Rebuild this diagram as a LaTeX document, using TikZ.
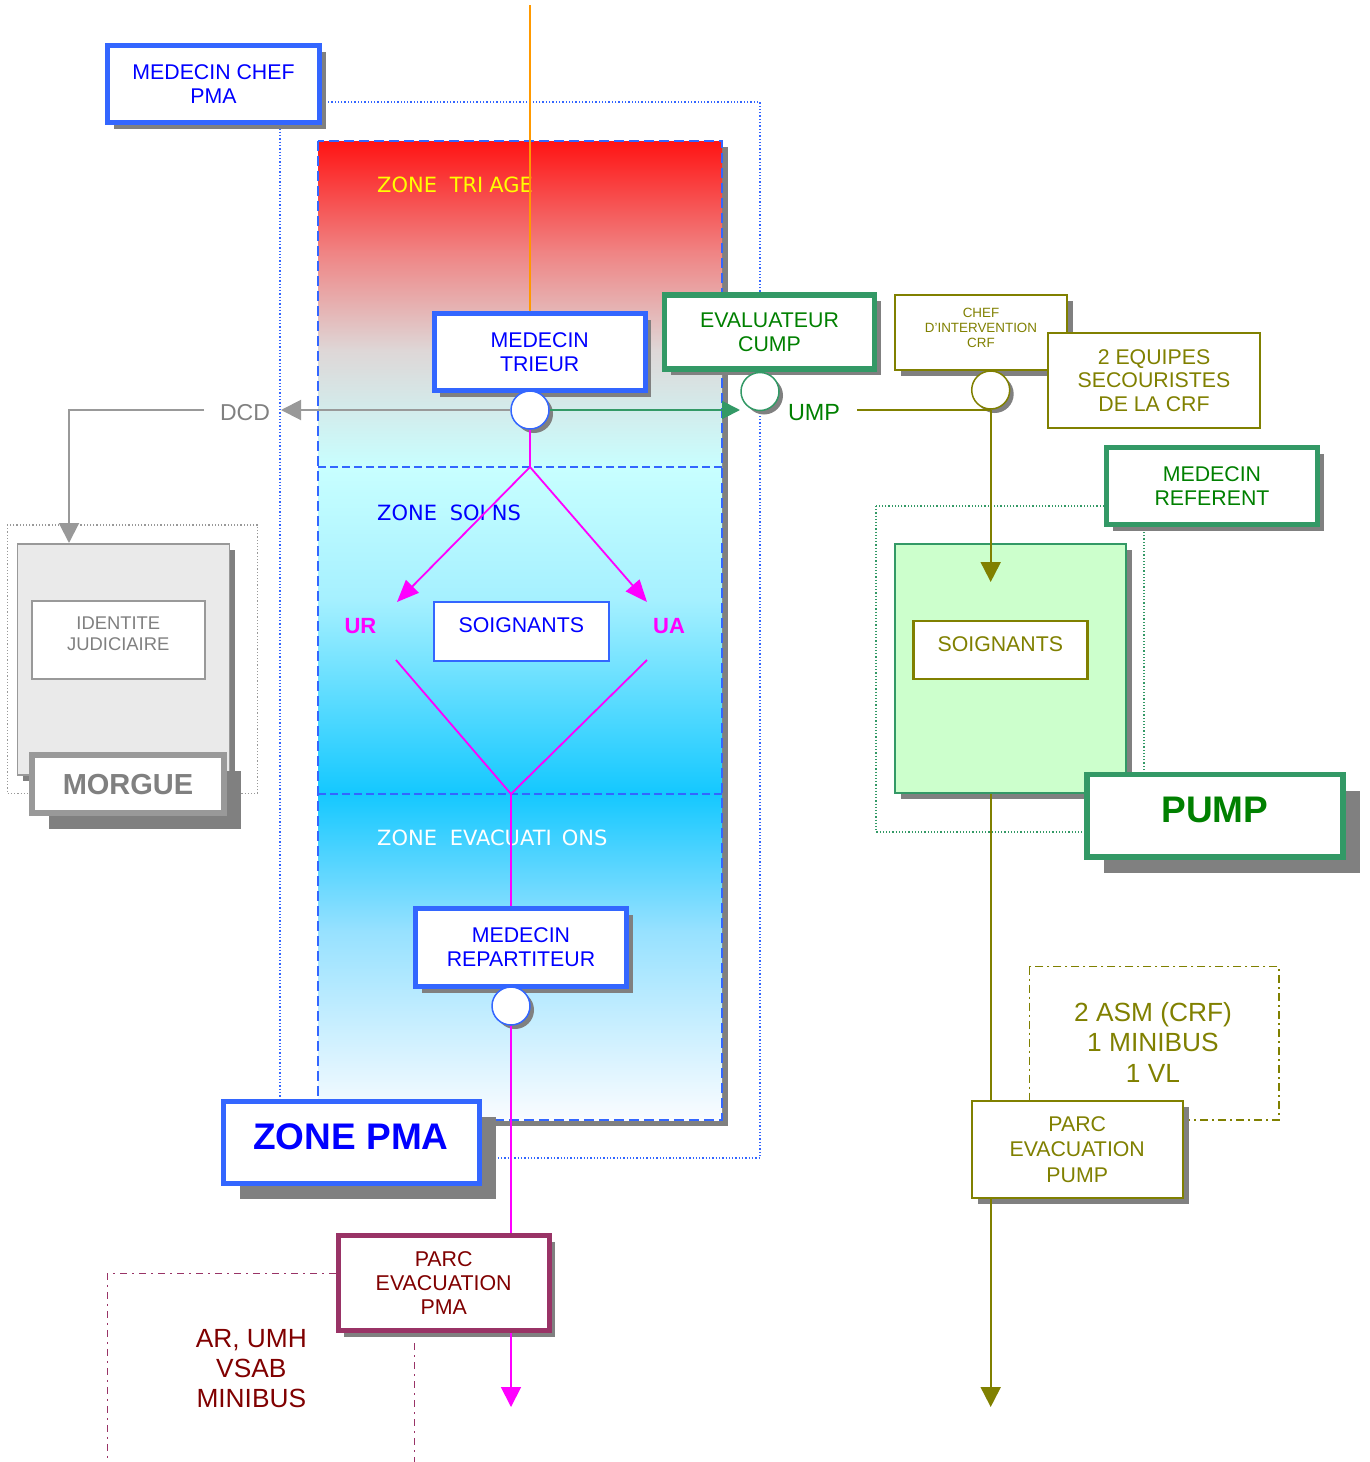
\documentclass[tikz,border=0pt]{standalone}
\usepackage{fontspec}
\setmainfont{Liberation Sans}
\newfontfamily\zonefont{DejaVu Sans}
\usetikzlibrary{shadows,arrows.meta}
\definecolor{bblue}{RGB}{51,102,255}
\definecolor{tblue}{RGB}{0,0,255}
\definecolor{gbord}{RGB}{51,153,102}
\definecolor{gtext}{RGB}{0,128,0}
\definecolor{olv}{RGB}{128,128,0}
\definecolor{mag}{RGB}{255,0,255}
\definecolor{pbord}{RGB}{153,51,102}
\definecolor{dred}{RGB}{128,0,0}
\definecolor{mgray}{RGB}{153,153,153}
\definecolor{tgray}{RGB}{128,128,128}
\definecolor{shgray}{RGB}{128,128,128}
\definecolor{mfill}{RGB}{234,234,234}
\definecolor{pfill}{RGB}{204,255,204}
\definecolor{orng}{RGB}{255,153,0}
\definecolor{ylw}{RGB}{255,255,0}
\definecolor{ta}{RGB}{255,20,20}
\definecolor{tb}{RGB}{240,130,130}
\definecolor{tc}{RGB}{222,215,215}
\definecolor{td}{RGB}{200,255,255}
\definecolor{sb}{RGB}{165,240,255}
\definecolor{sc}{RGB}{20,200,255}
\definecolor{eb}{RGB}{150,225,255}
\definecolor{ec}{RGB}{250,252,255}
\newcommand\myfs[2]{\fontsize{#1}{#2}\selectfont}
\newcommand\zgap{\kern6pt\ }
\begin{document}
\begin{tikzpicture}[x=1pt,y=-1pt,
  shad/.style={drop shadow={opacity=1,fill=shgray,shadow xshift=6pt,shadow yshift=-6pt}},
  bigshad/.style={drop shadow={opacity=1,fill=shgray,shadow xshift=17pt,shadow yshift=-16pt}},
  cshad/.style={drop shadow={opacity=1,fill=shgray,shadow xshift=4pt,shadow yshift=-4pt}},
  basebox/.style={fill=white,align=center,inner sep=0pt,font=\myfs{21.3}{24}},
  bluebox/.style={basebox,draw=bblue,line width=5pt,text=tblue},
  greenbox/.style={basebox,draw=gbord,line width=5.5pt,text=gtext},
  olivebox/.style={basebox,draw=olv,line width=2pt,text=olv},
  circ/.style={circle,fill=white,line width=1.5pt,minimum size=38pt,inner sep=0pt,cshad},
  arr/.style={-{Triangle[length=20pt,width=20pt]}},
  marr/.style={-{Triangle[length=22pt,width=18pt]}},
  zonetitle/.style={anchor=west,inner sep=0pt,font=\zonefont\myfs{21}{24}},
  thinl/.style={line width=1.8pt}
]
\useasboundingbox (0,0) rectangle (1369,1462);

% ---- PMA container (dotted) ----
\draw[bblue,line width=1.3pt,dash pattern=on 1.3pt off 2pt] (280,102) rectangle (760,1158);

% ---- zone column ----
\fill[shgray] (324,147) rectangle (728,1126);
\shade[top color=ta,bottom color=tb] (318,141) rectangle (722,250.5);
\shade[top color=tb,bottom color=tc] (318,250) rectangle (722,350.5);
\shade[top color=tc,bottom color=td] (318,350) rectangle (722,467.5);
\shade[top color=td,bottom color=sb] (318,467) rectangle (722,600.5);
\shade[top color=sb,bottom color=sc] (318,600) rectangle (722,793.5);
\shade[top color=sc,bottom color=eb] (318,793) rectangle (722,930.5);
\shade[top color=eb,bottom color=ec] (318,930) rectangle (722,1120);
\draw[bblue,line width=1.3pt,dash pattern=on 8pt off 4pt] (318,467) -- (722,467);
\draw[bblue,line width=1.3pt,dash pattern=on 8pt off 4pt] (318,794) -- (722,794);
\draw[bblue,line width=2.5pt,dash pattern=on 10pt off 5pt] (318,141) rectangle (722,1120);

\node[zonetitle,text=ylw] (ztri) at (377,185) {ZONE\zgap TRI\kern6pt AGE};
\node[zonetitle,text=tblue] (zsoi) at (377,513) {ZONE\zgap SOI\kern6pt NS};
\node[zonetitle,text=white] (zevac) at (377,838) {ZONE\zgap EVACUATI\kern10pt ONS};

% ---- morgue ----
\draw[mgray,line width=1.2pt,dash pattern=on 1.2pt off 2pt] (7.3,525) rectangle (257.7,793.3);
\node[draw=mgray,line width=1.5pt,fill=mfill,shad,minimum width=212pt,minimum height=231pt,inner sep=0pt] (morguezone) at (123.3,659.5) {};
\node[draw=mgray,line width=2pt,fill=white,minimum width=173.3pt,minimum height=77.7pt,inner sep=0pt] (ident) at (118.3,639.8) {};
\node[text=tgray,align=center,inner sep=0pt,font=\myfs{18.4}{21.5}] (identtxt) at (118.3,634) {IDENTITE\\JUDICIAIRE};
\node[basebox,draw=mgray,line width=6pt,text=tgray,font=\bfseries\myfs{29}{32},bigshad,minimum width=191.4pt,minimum height=57.7pt] (morgue) at (128,784.2) {MORGUE};

% ---- PUMP side ----
\draw[gbord,line width=1.2pt,dash pattern=on 1.2pt off 2pt] (876,506) rectangle (1144,832);
\node[draw=gbord,line width=1.8pt,fill=pfill,shad,minimum width=231pt,minimum height=249pt,inner sep=0pt] (pumpzone) at (1010.2,668.8) {};
\node[olivebox,line width=2.5pt,text depth=12pt,minimum width=174pt,minimum height=58pt] (soigp) at (1000.3,650) {SOIGNANTS};
\node[greenbox,bigshad,font=\bfseries\myfs{37}{40},text depth=12pt,minimum width=256pt,minimum height=82.5pt] (pump) at (1214.8,815.8) {PUMP};
\node[greenbox,shad,minimum width=211pt,minimum height=77pt] (referent) at (1212,486) {MEDECIN\\REFERENT};
\node[olivebox,shad,minimum width=172pt,minimum height=75pt] (crf) at (981,332.5) {};
\node[text=olv,align=center,inner sep=0pt,font=\myfs{13.4}{15.3}] (crftxt) at (981,328) {CHEF\\D'INTERVENTION\\CRF};
\node[olivebox,minimum width=212pt,minimum height=95.6pt,font=\myfs{21.3}{23.4}] (equipes) at (1154,380.5) {2 EQUIPES\\SECOURISTES\\DE LA CRF};
\draw[olv,line width=1.5pt,dash pattern=on 8pt off 4pt on 2pt off 4pt] (1029.3,966.7) rectangle (1279,1120);
\node[text=olv,align=center,font=\myfs{26.3}{30.5}] (asm) at (1153,1042) {2 ASM (CRF)\\1 MINIBUS\\1 VL};
\node[olivebox,shad,font=\myfs{21.3}{25.5},minimum width=211pt,minimum height=96.7pt] (parcpump) at (1077.2,1149.3) {PARC\\EVACUATION\\PUMP};

% ---- PMA boxes ----
\node[bluebox,shad,minimum width=212pt,minimum height=77pt] (chef) at (213.5,84) {MEDECIN CHEF\\PMA};
\node[bluebox,shad,minimum width=211pt,minimum height=77pt] (trieur) at (539.7,352) {MEDECIN\\TRIEUR};
\node[greenbox,shad,minimum width=210pt,minimum height=74pt] (evalc) at (769.5,332) {EVALUATEUR\\CUMP};
\node[basebox,draw=bblue,line width=2pt,text=tblue,text depth=13pt,minimum width=175pt,minimum height=58.6pt] (soigb) at (521.3,631.7) {SOIGNANTS};
\node[text=mag,font=\bfseries\myfs{22}{24}] (ur) at (360.5,626.5) {UR};
\node[text=mag,font=\bfseries\myfs{22}{24}] (ua) at (669,626.5) {UA};
\node[bluebox,shad,minimum width=211pt,minimum height=78pt] (repart) at (521,947.5) {MEDECIN\\REPARTITEUR};
\node[bluebox,bigshad,font=\bfseries\myfs{37}{40},text depth=10.5pt,minimum width=256pt,minimum height=82pt] (zpma) at (351,1142) {ZONE PMA};
\node[basebox,draw=pbord,line width=5pt,text=dred,shad,font=\myfs{21.4}{24},minimum width=211pt,minimum height=95pt] (parcpma) at (443.7,1283.3) {PARC\\EVACUATION\\PMA};
\node[text=dred,align=center,font=\myfs{26.3}{30}] (ar) at (251.3,1368.3) {AR, UMH\\VSAB\\MINIBUS};

\node[text=tgray,font=\myfs{23}{26}] (dcd) at (245,413) {DCD};
\node[text=gtext,font=\myfs{23.4}{26}] (ump) at (814,413) {UMP};

% ---- coordinates ----
\coordinate (otop) at (530,5);
\coordinate (dcdtip) at (281,410);
\coordinate (dcdl) at (204,410);
\coordinate (mtip) at (69,543);
\coordinate (umptip) at (740,410);
\coordinate (olst) at (857,410);
\coordinate (pztip) at (990.7,582);
\coordinate (pumpend) at (990.7,1407);
\coordinate (split) at (530,467);
\coordinate (urtip) at (397,602);
\coordinate (uatip) at (647,602);
\coordinate (urfrom) at (396,660);
\coordinate (uafrom) at (647,660);
\coordinate (merge) at (511,794);
\coordinate (pmaend) at (511,1407);
\coordinate (pl1) at (107.3,1273.3);
\coordinate (pl2) at (107.3,1462);
\coordinate (pl3) at (414.3,1343);
\coordinate (pl4) at (414.3,1462);

% ---- junction circles ----
\node[circ,draw=bblue] (ctrieur) at (530,410) {};
\node[circ,draw=gbord] (ceval) at (760,391.5) {};
\node[circ,draw=olv] (ccrf) at (990.7,390) {};
\node[circ,draw=bblue] (crep) at (511,1006) {};

% ---- connectors ----
\draw[orng,line width=1.6pt] (otop) -- (otop |- trieur.north);
\draw[mgray,line width=2pt,arr] (ctrieur.west) -- (dcdtip);
\draw[mgray,line width=2pt,arr] (dcdl) -| (mtip);
\draw[gbord,line width=2pt,-{Triangle[length=18pt,width=18pt]}] (ctrieur.east) -- (umptip);
\draw[olv,line width=2pt] (olst) -- (olst -| ccrf);
\draw[olv,line width=2pt,arr] (ccrf.south) -- (pztip);
\draw[olv,line width=2pt] (ccrf |- pumpzone.south) -- (ccrf |- parcpump.north);
\draw[olv,line width=2pt,arr] (ccrf |- parcpump.south) -- (pumpend);
\draw[mag,thinl] (ctrieur.south) -- (split);
\draw[mag,thinl,marr] (split) -- (urtip);
\draw[mag,thinl,marr] (split) -- (uatip);
\draw[mag,thinl] (urfrom) -- (merge) -- (uafrom);
\draw[mag,thinl] (merge) -- (merge |- repart.north);
\draw[mag,thinl] (crep.south) -- (crep |- parcpma.north);
\draw[mag,thinl,arr] (crep |- parcpma.south) -- (pmaend);
\draw[pbord,line width=1.5pt,dash pattern=on 7pt off 5pt on 2pt off 5pt] (parcpma.west |- pl1) -- (pl1) -- (pl2);
\draw[pbord,line width=1.5pt,dash pattern=on 7pt off 5pt on 2pt off 5pt] (pl3) -- (pl4);
\end{tikzpicture}
\end{document}
